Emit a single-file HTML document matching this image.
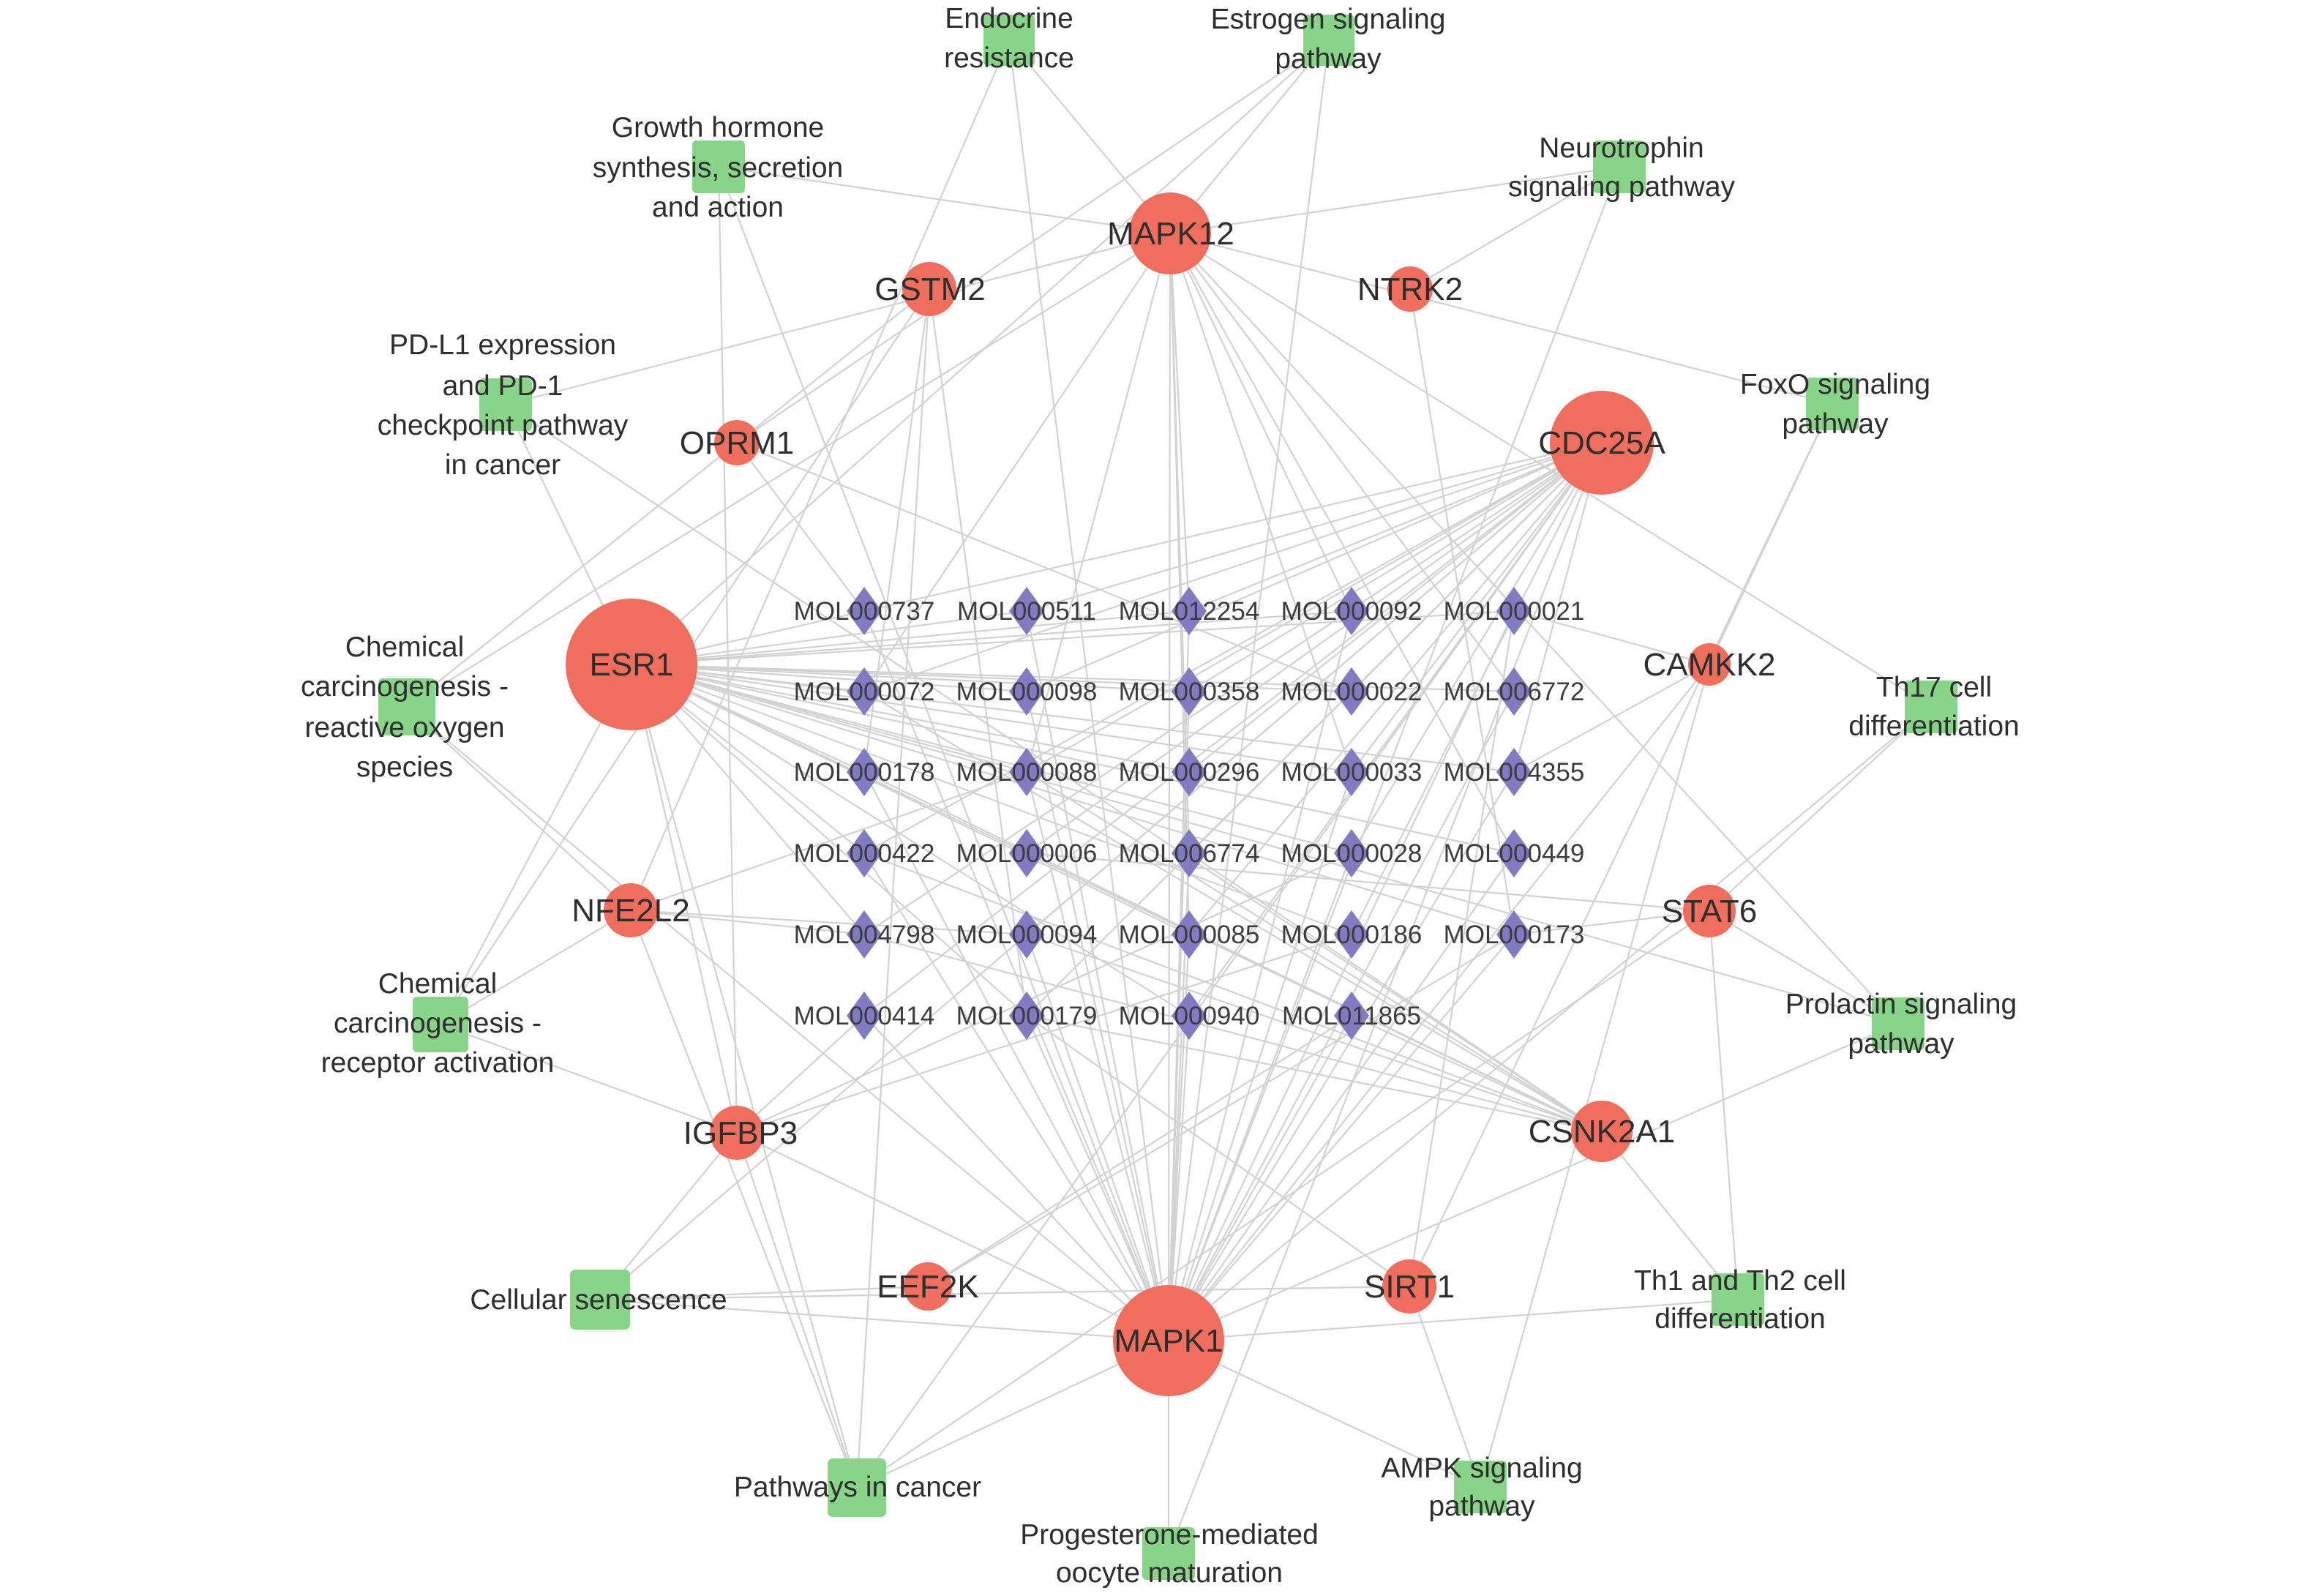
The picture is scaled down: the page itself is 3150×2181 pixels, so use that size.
<!DOCTYPE html>
<html><head><meta charset="utf-8"><style>
html,body{margin:0;padding:0;background:#fff;}
svg{display:block;}
text{font-family:"Liberation Sans",Arial,sans-serif;}
</style></head><body>
<svg width="3150" height="2181" viewBox="0 0 3150 2181" xmlns="http://www.w3.org/2000/svg">
<rect width="3150" height="2181" fill="#ffffff"/>
<g stroke="#d2d2d2" stroke-width="2.2" fill="none">
<!-- ESR1 -->
<line x1="863" y1="908" x2="1181" y2="835"/><line x1="863" y1="908" x2="1403" y2="835"/><line x1="863" y1="908" x2="1625" y2="835"/><line x1="863" y1="908" x2="1847" y2="835"/><line x1="863" y1="908" x2="2069" y2="835"/>
<line x1="863" y1="908" x2="1181" y2="945"/><line x1="863" y1="908" x2="1403" y2="945"/><line x1="863" y1="908" x2="1625" y2="945"/><line x1="863" y1="908" x2="1847" y2="945"/><line x1="863" y1="908" x2="2069" y2="945"/>
<line x1="863" y1="908" x2="1181" y2="1055"/><line x1="863" y1="908" x2="1403" y2="1055"/><line x1="863" y1="908" x2="1625" y2="1055"/><line x1="863" y1="908" x2="1847" y2="1055"/><line x1="863" y1="908" x2="2069" y2="1055"/>
<line x1="863" y1="908" x2="1181" y2="1166"/><line x1="863" y1="908" x2="1403" y2="1166"/><line x1="863" y1="908" x2="1847" y2="1166"/><line x1="863" y1="908" x2="2069" y2="1166"/>
<line x1="863" y1="908" x2="1181" y2="1277"/><line x1="863" y1="908" x2="1625" y2="1277"/><line x1="863" y1="908" x2="1847" y2="1277"/><line x1="863" y1="908" x2="2069" y2="1277"/>
<line x1="863" y1="908" x2="1403" y2="1388"/><line x1="863" y1="908" x2="1625" y2="1388"/>
<!-- CDC25A -->
<line x1="2189" y1="605" x2="1181" y2="835"/><line x1="2189" y1="605" x2="1403" y2="835"/><line x1="2189" y1="605" x2="1625" y2="835"/>
<line x1="2189" y1="605" x2="1181" y2="945"/><line x1="2189" y1="605" x2="1403" y2="945"/><line x1="2189" y1="605" x2="1625" y2="945"/><line x1="2189" y1="605" x2="1847" y2="945"/>
<line x1="2189" y1="605" x2="1403" y2="1055"/><line x1="2189" y1="605" x2="1625" y2="1055"/><line x1="2189" y1="605" x2="1847" y2="1055"/><line x1="2189" y1="605" x2="2069" y2="1055"/>
<line x1="2189" y1="605" x2="1181" y2="1166"/><line x1="2189" y1="605" x2="1403" y2="1166"/><line x1="2189" y1="605" x2="1625" y2="1166"/><line x1="2189" y1="605" x2="1847" y2="1166"/>
<line x1="2189" y1="605" x2="1181" y2="1277"/><line x1="2189" y1="605" x2="1403" y2="1277"/><line x1="2189" y1="605" x2="1625" y2="1277"/><line x1="2189" y1="605" x2="1847" y2="1277"/>
<line x1="2189" y1="605" x2="1181" y2="1388"/><line x1="2189" y1="605" x2="1403" y2="1388"/><line x1="2189" y1="605" x2="1625" y2="1388"/>
<!-- MAPK1 -->
<line x1="1597" y1="1832" x2="1181" y2="835"/><line x1="1597" y1="1832" x2="1403" y2="835"/><line x1="1597" y1="1832" x2="1625" y2="835"/><line x1="1597" y1="1832" x2="1847" y2="835"/><line x1="1597" y1="1832" x2="2069" y2="835"/>
<line x1="1597" y1="1832" x2="1403" y2="945"/><line x1="1597" y1="1832" x2="1625" y2="945"/><line x1="1597" y1="1832" x2="2069" y2="945"/>
<line x1="1597" y1="1832" x2="1181" y2="1055"/><line x1="1597" y1="1832" x2="1403" y2="1055"/><line x1="1597" y1="1832" x2="1847" y2="1055"/><line x1="1597" y1="1832" x2="2069" y2="1055"/>
<line x1="1597" y1="1832" x2="1181" y2="1166"/><line x1="1597" y1="1832" x2="1625" y2="1166"/><line x1="1597" y1="1832" x2="1847" y2="1166"/><line x1="1597" y1="1832" x2="2069" y2="1166"/>
<line x1="1597" y1="1832" x2="1403" y2="1277"/><line x1="1597" y1="1832" x2="1625" y2="1277"/><line x1="1597" y1="1832" x2="2069" y2="1277"/>
<line x1="1597" y1="1832" x2="1181" y2="1388"/><line x1="1597" y1="1832" x2="1403" y2="1388"/><line x1="1597" y1="1832" x2="1625" y2="1388"/><line x1="1597" y1="1832" x2="1847" y2="1388"/>
<!-- MAPK12 -->
<line x1="1599" y1="319" x2="1625" y2="835"/><line x1="1599" y1="319" x2="1847" y2="835"/><line x1="1599" y1="319" x2="1181" y2="945"/><line x1="1599" y1="319" x2="2069" y2="945"/><line x1="1599" y1="319" x2="1403" y2="1055"/><line x1="1599" y1="319" x2="1847" y2="1055"/><line x1="1599" y1="319" x2="1625" y2="1166"/><line x1="1599" y1="319" x2="2069" y2="1166"/><line x1="1599" y1="319" x2="1625" y2="1277"/><line x1="1599" y1="319" x2="1597" y2="1832"/>
<!-- CSNK2A1 -->
<line x1="2189" y1="1546" x2="1181" y2="945"/><line x1="2189" y1="1546" x2="1181" y2="1055"/><line x1="2189" y1="1546" x2="1403" y2="1055"/><line x1="2189" y1="1546" x2="1181" y2="1166"/><line x1="2189" y1="1546" x2="1403" y2="1166"/><line x1="2189" y1="1546" x2="1625" y2="1166"/><line x1="2189" y1="1546" x2="1181" y2="1277"/><line x1="2189" y1="1546" x2="1403" y2="1277"/><line x1="2189" y1="1546" x2="1403" y2="1388"/><line x1="2189" y1="1546" x2="1847" y2="1388"/>
<!-- other genes to MOLs -->
<line x1="2336" y1="1245" x2="2069" y2="1277"/><line x1="2336" y1="1245" x2="1403" y2="1166"/>
<line x1="2336" y1="908" x2="2069" y2="835"/><line x1="2336" y1="908" x2="2069" y2="1055"/>
<line x1="862" y1="1244" x2="1181" y2="1277"/><line x1="862" y1="1244" x2="1403" y2="1055"/><line x1="862" y1="1244" x2="1403" y2="1277"/>
<line x1="1007" y1="1548" x2="1847" y2="1277"/><line x1="1007" y1="1548" x2="1847" y2="1166"/><line x1="1007" y1="1548" x2="1181" y2="1388"/>
<line x1="1007" y1="605" x2="1847" y2="945"/><line x1="1007" y1="605" x2="1181" y2="835"/>
<line x1="1270" y1="395" x2="1181" y2="1055"/><line x1="1270" y1="395" x2="1403" y2="1388"/>
<line x1="1927" y1="395" x2="2069" y2="1277"/>
<line x1="1926" y1="1758" x2="1403" y2="1388"/><line x1="1926" y1="1758" x2="2069" y2="835"/>
<line x1="1268" y1="1758" x2="1847" y2="1388"/><line x1="1268" y1="1758" x2="2069" y2="1277"/>
<!-- gene - pathway -->
<line x1="1379" y1="55" x2="1599" y2="319"/><line x1="1379" y1="55" x2="1597" y2="1832"/><line x1="1379" y1="55" x2="862" y2="1244"/>
<line x1="1816" y1="55" x2="863" y2="908"/><line x1="1816" y1="55" x2="1007" y2="605"/><line x1="1816" y1="55" x2="1597" y2="1832"/><line x1="1816" y1="55" x2="1599" y2="319"/>
<line x1="982" y1="228" x2="1599" y2="319"/><line x1="982" y1="228" x2="1007" y2="1548"/><line x1="982" y1="228" x2="1597" y2="1832"/>
<line x1="2213" y1="228" x2="1599" y2="319"/><line x1="2213" y1="228" x2="1927" y2="395"/><line x1="2213" y1="228" x2="1597" y2="1832"/>
<line x1="691" y1="553" x2="1599" y2="319"/><line x1="691" y1="553" x2="863" y2="908"/><line x1="691" y1="553" x2="2189" y2="1546"/>
<line x1="2504" y1="552" x2="2336" y2="908"/><line x1="2504" y1="552" x2="1926" y2="1758"/><line x1="2504" y1="552" x2="1599" y2="319"/>
<line x1="556" y1="966" x2="1270" y2="395"/><line x1="556" y1="966" x2="1599" y2="319"/><line x1="556" y1="966" x2="862" y2="1244"/><line x1="556" y1="966" x2="1597" y2="1832"/>
<line x1="2639" y1="966" x2="1599" y2="319"/><line x1="2639" y1="966" x2="2336" y2="1245"/><line x1="2639" y1="966" x2="1597" y2="1832"/>
<line x1="602" y1="1400" x2="862" y2="1244"/><line x1="602" y1="1400" x2="1270" y2="395"/><line x1="602" y1="1400" x2="863" y2="908"/><line x1="602" y1="1400" x2="1007" y2="1548"/>
<line x1="2594" y1="1399" x2="863" y2="908"/><line x1="2594" y1="1399" x2="1599" y2="319"/><line x1="2594" y1="1399" x2="2336" y2="1245"/><line x1="2594" y1="1399" x2="1597" y2="1832"/>
<line x1="820" y1="1776" x2="1007" y2="1548"/><line x1="820" y1="1776" x2="2189" y2="605"/><line x1="820" y1="1776" x2="1268" y2="1758"/><line x1="820" y1="1776" x2="1597" y2="1832"/><line x1="820" y1="1776" x2="1926" y2="1758"/>
<line x1="2375" y1="1776" x2="2336" y2="1245"/><line x1="2375" y1="1776" x2="1597" y2="1832"/><line x1="2375" y1="1776" x2="2189" y2="1546"/>
<line x1="1171" y1="2033" x2="1270" y2="395"/><line x1="1171" y1="2033" x2="1007" y2="1548"/><line x1="1171" y1="2033" x2="862" y2="1244"/><line x1="1171" y1="2033" x2="1597" y2="1832"/><line x1="1171" y1="2033" x2="2336" y2="1245"/><line x1="1171" y1="2033" x2="863" y2="908"/><line x1="1171" y1="2033" x2="2189" y2="605"/>
<line x1="2023" y1="2032" x2="1926" y2="1758"/><line x1="2023" y1="2032" x2="2336" y2="908"/><line x1="2023" y1="2032" x2="1597" y2="1832"/>
<line x1="1597" y1="2123" x2="1597" y2="1832"/><line x1="1597" y1="2123" x2="2189" y2="605"/>
<line x1="2336" y1="908" x2="1597" y2="1832"/><line x1="1007" y1="1548" x2="863" y2="908"/><line x1="1007" y1="1548" x2="1597" y2="1832"/>
</g>
<!-- pathway squares -->
<g fill="#88d488">
<rect x="1344" y="20" width="70" height="70" rx="6"/>
<rect x="1781" y="20" width="70" height="70" rx="6"/>
<rect x="946" y="192" width="72" height="72" rx="6"/>
<rect x="2177" y="192" width="72" height="72" rx="6"/>
<rect x="655" y="517" width="72" height="72" rx="6"/>
<rect x="2468" y="516" width="72" height="72" rx="6"/>
<rect x="517" y="927" width="78" height="78" rx="6"/>
<rect x="2603" y="930" width="72" height="72" rx="6"/>
<rect x="564" y="1362" width="76" height="76" rx="6"/>
<rect x="2558" y="1363" width="72" height="72" rx="6"/>
<rect x="779" y="1735" width="82" height="82" rx="7"/>
<rect x="2339" y="1740" width="72" height="72" rx="6"/>
<rect x="1131" y="1993" width="80" height="80" rx="7"/>
<rect x="1987" y="1996" width="72" height="72" rx="6"/>
<rect x="1561" y="2087" width="72" height="72" rx="6"/>
</g>
<!-- diamonds -->
<g fill="#827ac2">
<polygon points="1181,802 1205,835 1181,868 1157,835"/><polygon points="1403,802 1427,835 1403,868 1379,835"/><polygon points="1625,802 1649,835 1625,868 1601,835"/><polygon points="1847,802 1871,835 1847,868 1823,835"/><polygon points="2069,802 2093,835 2069,868 2045,835"/>
<polygon points="1181,912 1205,945 1181,978 1157,945"/><polygon points="1403,912 1427,945 1403,978 1379,945"/><polygon points="1625,912 1649,945 1625,978 1601,945"/><polygon points="1847,912 1871,945 1847,978 1823,945"/><polygon points="2069,912 2093,945 2069,978 2045,945"/>
<polygon points="1181,1022 1205,1055 1181,1088 1157,1055"/><polygon points="1403,1022 1427,1055 1403,1088 1379,1055"/><polygon points="1625,1022 1649,1055 1625,1088 1601,1055"/><polygon points="1847,1022 1871,1055 1847,1088 1823,1055"/><polygon points="2069,1022 2093,1055 2069,1088 2045,1055"/>
<polygon points="1181,1133 1205,1166 1181,1199 1157,1166"/><polygon points="1403,1133 1427,1166 1403,1199 1379,1166"/><polygon points="1625,1133 1649,1166 1625,1199 1601,1166"/><polygon points="1847,1133 1871,1166 1847,1199 1823,1166"/><polygon points="2069,1133 2093,1166 2069,1199 2045,1166"/>
<polygon points="1181,1244 1205,1277 1181,1310 1157,1277"/><polygon points="1403,1244 1427,1277 1403,1310 1379,1277"/><polygon points="1625,1244 1649,1277 1625,1310 1601,1277"/><polygon points="1847,1244 1871,1277 1847,1310 1823,1277"/><polygon points="2069,1244 2093,1277 2069,1310 2045,1277"/>
<polygon points="1181,1355 1205,1388 1181,1421 1157,1388"/><polygon points="1403,1355 1427,1388 1403,1421 1379,1388"/><polygon points="1625,1355 1649,1388 1625,1421 1601,1388"/><polygon points="1847,1355 1871,1388 1847,1421 1823,1388"/>
</g>
<!-- gene circles -->
<g fill="#ef6e5e">
<circle cx="1599" cy="319" r="56"/>
<circle cx="1270" cy="395" r="37"/>
<circle cx="1927" cy="395" r="31"/>
<circle cx="1007" cy="605" r="31"/>
<circle cx="2189" cy="605" r="71"/>
<circle cx="863" cy="908" r="90"/>
<circle cx="2336" cy="908" r="29"/>
<circle cx="862" cy="1244" r="37"/>
<circle cx="2336" cy="1245" r="36"/>
<circle cx="1007" cy="1548" r="37"/>
<circle cx="2189" cy="1546" r="42"/>
<circle cx="1268" cy="1758" r="33"/>
<circle cx="1926" cy="1758" r="37"/>
<circle cx="1597" cy="1832" r="76"/>
</g>
<!-- MOL labels -->
<g font-size="35" fill="#3c3c3c" text-anchor="middle">
<text x="1181" y="847">MOL000737</text><text x="1403" y="847">MOL000511</text><text x="1625" y="847">MOL012254</text><text x="1847" y="847">MOL000092</text><text x="2069" y="847">MOL000021</text>
<text x="1181" y="957">MOL000072</text><text x="1403" y="957">MOL000098</text><text x="1625" y="957">MOL000358</text><text x="1847" y="957">MOL000022</text><text x="2069" y="957">MOL006772</text>
<text x="1181" y="1067">MOL000178</text><text x="1403" y="1067">MOL000088</text><text x="1625" y="1067">MOL000296</text><text x="1847" y="1067">MOL000033</text><text x="2069" y="1067">MOL004355</text>
<text x="1181" y="1178">MOL000422</text><text x="1403" y="1178">MOL000006</text><text x="1625" y="1178">MOL006774</text><text x="1847" y="1178">MOL000028</text><text x="2069" y="1178">MOL000449</text>
<text x="1181" y="1289">MOL004798</text><text x="1403" y="1289">MOL000094</text><text x="1625" y="1289">MOL000085</text><text x="1847" y="1289">MOL000186</text><text x="2069" y="1289">MOL000173</text>
<text x="1181" y="1400">MOL000414</text><text x="1403" y="1400">MOL000179</text><text x="1625" y="1400">MOL000940</text><text x="1847" y="1400">MOL011865</text>
</g>
<!-- gene labels -->
<g font-size="44" fill="#2e2e2e" text-anchor="middle">
<text x="1600" y="334">MAPK12</text>
<text x="1271" y="410">GSTM2</text>
<text x="1927" y="410">NTRK2</text>
<text x="1007" y="620">OPRM1</text>
<text x="2189" y="620">CDC25A</text>
<text x="863" y="923">ESR1</text>
<text x="2336" y="923">CAMKK2</text>
<text x="862" y="1259">NFE2L2</text>
<text x="2336" y="1260">STAT6</text>
<text x="1012" y="1563">IGFBP3</text>
<text x="2189" y="1561">CSNK2A1</text>
<text x="1268" y="1773">EEF2K</text>
<text x="1926" y="1773">SIRT1</text>
<text x="1597" y="1847">MAPK1</text>
</g>
<!-- pathway labels -->
<g font-size="39" fill="#2e2e2e" text-anchor="middle">
<text x="1379" y="38">Endocrine</text><text x="1379" y="92">resistance</text>
<text x="1815" y="39">Estrogen signaling</text><text x="1815" y="93">pathway</text>
<text x="981" y="187">Growth hormone</text><text x="981" y="242">synthesis, secretion</text><text x="981" y="296">and action</text>
<text x="2216" y="215">Neurotrophin</text><text x="2216" y="268">signaling pathway</text>
<text x="687" y="484">PD-L1 expression</text><text x="687" y="540">and PD-1</text><text x="687" y="594">checkpoint pathway</text><text x="687" y="648">in cancer</text>
<text x="2508" y="538">FoxO signaling</text><text x="2508" y="592">pathway</text>
<text x="553" y="897">Chemical</text><text x="553" y="951">carcinogenesis -</text><text x="553" y="1007">reactive oxygen</text><text x="553" y="1061">species</text>
<text x="2643" y="952">Th17 cell</text><text x="2643" y="1005">differentiation</text>
<text x="598" y="1357">Chemical</text><text x="598" y="1411">carcinogenesis -</text><text x="598" y="1465">receptor activation</text>
<text x="2598" y="1385">Prolactin signaling</text><text x="2598" y="1439">pathway</text>
<text x="818" y="1789">Cellular senescence</text>
<text x="2378" y="1763">Th1 and Th2 cell</text><text x="2378" y="1815">differentiation</text>
<text x="1172" y="2045">Pathways in cancer</text>
<text x="2025" y="2019">AMPK signaling</text><text x="2025" y="2071">pathway</text>
<text x="1598" y="2110">Progesterone-mediated</text><text x="1598" y="2162">oocyte maturation</text>
</g>
</svg>
</body></html>
